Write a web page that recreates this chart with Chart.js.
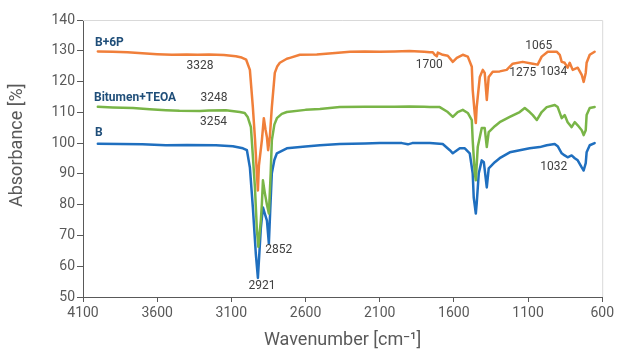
<!DOCTYPE html>
<html><head><meta charset="utf-8">
<script src="https://cdn.jsdelivr.net/npm/chart.js@4"></script>
<style>html,body{margin:0;padding:0;background:#fff;}canvas{display:block;}</style>
</head><body>
<canvas id="c" width="617" height="351"></canvas>
<script>
// ---- data ----
const xTickLabels = [4100, 3600, 3100, 2600, 2100, 1600, 1100, 600];
const yTickLabels = [50, 60, 70, 80, 90, 100, 110, 120, 130, 140];
const seriesNames = ['B+6P', 'Bitumen+TEOA', 'B'];

const wnB6P = [4000,3900,3800,3700,3600,3500,3400,3328,3250,3150,3070,3030,3000,2975,2955,2940,2928,2921,2914,2894,2881,2870,2860,2852,2840,2827,2807,2790,2773,2726,2705,2638,2524,2400,2300,2200,2100,2000,1900,1800,1762,1742,1729,1715,1708,1675,1641,1607,1580,1540,1506,1479,1473,1459,1452,1446,1425,1405,1392,1378,1365,1338,1291,1244,1203,1136,1068,1035,1008,967,907,886,873,853,833,819,799,765,738,725,711,705,684,651];
const absB6P = [129.8,129.7,129.5,129.2,128.9,128.7,128.8,128.7,128.8,128.6,128.2,127.8,127.1,123.8,111.7,100.9,90.2,84.6,92.8,101,108.1,104.5,101.9,97.7,102.3,111.7,122.8,125,126.1,127.4,127.7,128.7,128.8,129.3,129.7,129.8,129.7,129.8,129.9,129.7,129.5,129.5,128.7,128.2,129.4,128.7,128.4,126.4,127.7,128.7,128.1,124.8,117.3,109.5,106.5,111.7,121.5,123.8,122.8,114,121.5,123.2,123.3,123.8,125.8,126.4,125.8,125.5,128.1,129.7,129.7,128.7,126.4,126.1,124.5,126.1,123.8,124.5,122.2,119.9,122.8,126.1,128.7,129.7];

const wnTEOA = [4000,3900,3763,3650,3541,3450,3312,3250,3137,3043,3010,2990,2968,2941,2928,2918,2901,2894,2887,2875,2860,2847,2835,2827,2810,2793,2760,2726,2600,2503,2369,2200,2000,1900,1800,1762,1695,1641,1607,1574,1540,1506,1479,1473,1459,1452,1439,1412,1392,1378,1365,1324,1291,1223,1156,1122,1089,1068,1041,1008,974,920,900,873,853,833,806,785,765,738,725,711,705,684,651];
const absTEOA = [111.8,111.6,111.4,111.0,110.7,110.5,110.4,110.6,110.7,110.1,109.8,108.5,105.2,85.6,72,66.3,75,80.4,87.9,84,80,77.1,90,100.9,106,108.1,109.5,110.1,110.8,111.1,111.7,111.8,111.8,111.9,111.8,111.7,111.7,110.1,108.5,110.1,110.8,109.8,107.5,100.9,90.2,87.9,98.7,104.9,104.9,98.7,103.6,105.5,106.8,108.5,110.1,111.4,110.1,109.1,107.5,110.1,111.7,112.4,111.7,108.1,109.1,106.8,105.2,106.8,105.8,104.2,102.6,104.2,109.1,111.4,111.7];

const wnB = [4000,3850,3700,3541,3400,3204,3090,3022,2995,2975,2955,2935,2921,2901,2887,2874,2860,2847,2838,2827,2810,2793,2726,2600,2503,2369,2200,2100,1950,1910,1880,1762,1675,1627,1607,1560,1526,1493,1473,1466,1452,1446,1432,1412,1398,1378,1365,1324,1291,1223,1156,1089,1021,974,920,900,873,853,833,806,785,765,738,725,711,705,684,651];
const absB = [99.8,99.7,99.6,99.3,99.4,99.3,99.0,98.3,97.7,92.1,79.1,64,56.2,72.5,79.1,77,74.8,67.3,78,90.2,94.5,96.7,98.3,98.9,99.3,99.7,99.9,100,100,99.6,100,100,99.7,97.7,96.7,98.3,98.3,96.7,90.2,82.3,77.1,80.4,90.2,94.4,93.8,85.6,91.8,93.8,95.1,97.0,97.7,98.3,98.7,99.3,99.7,99.0,96.7,96.0,95.4,96.0,95.1,94.4,92.1,91.1,93.5,97.0,99.3,100];

// peak annotation labels: text, wavenumber, absorbance (label centre)
const peakText = ['3328', '3248', '3254', '2921', '2852', '1700', '1065', '1275', '1034', '1032'];
const peakWn   = [3312, 3217, 3221, 2894, 2780, 1766, 1028, 1136, 927, 927];
const peakAbs  = [125.1, 114.7, 106.8, 53.6, 65.3, 125.3, 131.5, 122.7, 123.0, 92.3];
// series name labels (left edge position)
const nameWn  = [4019, 4026, 4019];
const nameAbs = [132.6, 114.7, 103.2];

const colors = ['#F07F3A', '#79B547', '#1F6FBF'];
const FONT = 'Roboto, "Open Sans", sans-serif';

function pts(w, a) { return w.map((v, i) => ({x: v, y: a[i]})); }

const labelPlugin = {
  id: 'labels',
  afterDatasetsDraw(chart) {
    const ctx = chart.ctx, xs = chart.scales.x, ys = chart.scales.y, ca = chart.chartArea;
    ctx.save();
    // light frame on top and right
    ctx.strokeStyle = '#D9D9D9'; ctx.lineWidth = 1;
    ctx.beginPath();
    ctx.moveTo(ca.left, ca.top + 0.5); ctx.lineTo(ca.right + 0.5, ca.top + 0.5); ctx.lineTo(ca.right + 0.5, ca.bottom);
    ctx.stroke();
    // peak labels
    ctx.font = '12px ' + FONT; ctx.fillStyle = '#404040';
    ctx.textAlign = 'center'; ctx.textBaseline = 'middle';
    peakText.forEach((t, i) => ctx.fillText(t, xs.getPixelForValue(peakWn[i]), ys.getPixelForValue(peakAbs[i])));
    // series names
    ctx.font = 'bold 12px ' + FONT; ctx.fillStyle = '#1F4E79'; ctx.textAlign = 'left';
    seriesNames.forEach((t, i) => ctx.fillText(t, xs.getPixelForValue(nameWn[i]), ys.getPixelForValue(nameAbs[i])));
    // y axis title
    ctx.font = '18px ' + FONT; ctx.fillStyle = '#595959'; ctx.textAlign = 'center';
    ctx.translate(17, ys.getPixelForValue(99.3));
    ctx.rotate(-Math.PI / 2);
    ctx.fillText('Absorbance [%]', 0, 0);
    ctx.restore();
  }
};

new Chart(document.getElementById('c'), {
  type: 'line',
  data: {
    datasets: [
      {label: seriesNames[0], data: pts(wnB6P, absB6P), borderColor: colors[0]},
      {label: seriesNames[1], data: pts(wnTEOA, absTEOA), borderColor: colors[1]},
      {label: seriesNames[2], data: pts(wnB, absB), borderColor: colors[2]}
    ]
  },
  options: {
    responsive: false, animation: false, devicePixelRatio: 1,
    parsing: false,
    layout: {padding: {left: 0, top: 20, right: 14, bottom: 0}},
    elements: {
      line: {borderWidth: 2.5, tension: 0, fill: false, borderJoinStyle: 'round', borderCapStyle: 'round'},
      point: {radius: 0}
    },
    plugins: {legend: {display: false}, tooltip: {enabled: false}},
    scales: {
      x: {
        type: 'linear', reverse: true, min: 600, max: 4100,
        afterBuildTicks: s => { s.ticks = xTickLabels.map(v => ({value: v})); },
        afterFit: s => { s.height = 54; },
        ticks: {callback: v => String(v), color: '#595959', font: {family: FONT, size: 14}, padding: 3, maxRotation: 0, autoSkip: false},
        grid: {display: true, drawOnChartArea: false, drawTicks: true, tickLength: 5, color: '#595959'},
        border: {display: true, color: '#595959', width: 1},
        title: {display: true, text: 'Wavenumber [cm\u207B\u00B9]', color: '#595959', font: {family: FONT, size: 18}, padding: {top: 0, bottom: 0}}
      },
      y: {
        type: 'linear', min: 50, max: 140,
        afterBuildTicks: s => { s.ticks = yTickLabels.map(v => ({value: v})); },
        afterFit: s => { s.width = 83; },
        ticks: {callback: v => String(v), color: '#595959', font: {family: FONT, size: 14}, padding: 2},
        grid: {display: true, drawOnChartArea: false, drawTicks: true, tickLength: 6, color: '#595959'},
        border: {display: true, color: '#595959', width: 1}
      }
    }
  },
  plugins: [labelPlugin]
});
</script>
</body></html>
